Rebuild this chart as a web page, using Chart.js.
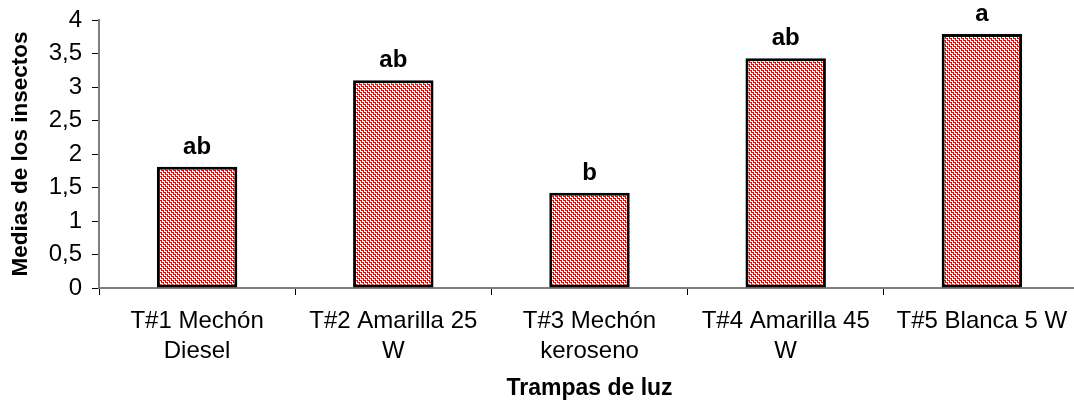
<!DOCTYPE html>
<html>
<head>
<meta charset="utf-8">
<script src="https://cdn.jsdelivr.net/npm/chart.js@4"></script>
<style>
html, body { margin: 0; padding: 0; background: #fff; overflow: hidden; width: 1074px; height: 405px; }
#wrap { width: 1080px; height: 405px; }
</style>
</head>
<body>
<div id="wrap"><canvas id="c" width="1080" height="405"></canvas></div>
<script>
const categories = [
  ['T#1 Mechón', 'Diesel'],
  ['T#2 Amarilla 25', 'W'],
  ['T#3 Mechón', 'keroseno'],
  ['T#4 Amarilla 45', 'W'],
  'T#5 Blanca 5 W'
];
const means = [1.81, 3.10, 1.42, 3.43, 3.79];
const letters = ['ab', 'ab', 'b', 'ab', 'a'];
const yTitle = 'Medias de los insectos';
const xTitle = 'Trampas de luz';

function makePattern() {
  const t = document.createElement('canvas');
  t.width = 4; t.height = 4;
  const g = t.getContext('2d');
  g.fillStyle = '#ffffff';
  g.fillRect(0, 0, 4, 4);
  g.fillStyle = '#ff0000';
  for (let y = 0; y < 4; y++) {
    for (let x = 0; x < 4; x++) {
      const d = ((x - y) % 4 + 4) % 4;
      if (d === 0 || ((x + y) % 2 === 1 && y % 2 === 0)) g.fillRect(x, y, 1, 1);
    }
  }
  return g.createPattern(t, 'repeat');
}

const letterPlugin = {
  id: 'letters',
  afterDatasetsDraw(chart) {
    const ctx = chart.ctx;
    const meta = chart.getDatasetMeta(0);
    ctx.save();
    ctx.font = 'bold 24px "Liberation Sans", Arial, sans-serif';
    ctx.fillStyle = '#000';
    ctx.textAlign = 'center';
    ctx.textBaseline = 'alphabetic';
    meta.data.forEach((bar, i) => {
      ctx.fillText(letters[i], bar.x, bar.y - 13);
    });
    ctx.restore();
  }
};

const font = { family: '"Liberation Sans", Arial, sans-serif', size: 24 };

new Chart(document.getElementById('c'), {
  type: 'bar',
  data: {
    labels: categories,
    datasets: [{
      data: means,
      backgroundColor: makePattern(),
      borderColor: '#000',
      borderWidth: 3,
      borderSkipped: false,
      categoryPercentage: 1,
      barPercentage: 0.41
    }]
  },
  options: {
    responsive: false,
    animation: false,
    devicePixelRatio: 1,
    layout: { padding: { top: 20, right: 0, left: 0, bottom: 0 } },
    plugins: { legend: { display: false }, tooltip: { enabled: false } },
    scales: {
      x: {
        offset: true,
        grid: { display: true, drawOnChartArea: false, drawTicks: true, tickLength: 7, color: '#000', offset: true },
        border: { display: true, color: '#808080', width: 2 },
        ticks: { color: '#000', font: { ...font, lineHeight: 1.25 }, padding: 11, maxRotation: 0, autoSkip: false },
        title: { display: true, text: xTitle, color: '#000', font: { ...font, size: 23, weight: 'bold' }, padding: { top: 0, bottom: 3 } },
        afterFit(scale) { scale.height = 117; scale.paddingLeft = 0; scale.paddingRight = 0; }
      },
      y: {
        min: 0, max: 4,
        grid: { display: true, drawOnChartArea: false, drawTicks: true, tickLength: 7, color: '#000' },
        border: { display: true, color: '#808080', width: 2 },
        ticks: {
          stepSize: 0.5, color: '#000', font: font, padding: 10,
          callback: (v) => String(v).replace('.', ',')
        },
        title: { display: true, text: yTitle, color: '#000', font: { ...font, size: 22.5, weight: 'bold' }, padding: { top: 7, bottom: 0 } },
        afterFit(scale) { scale.width = 99; scale.paddingTop = 0; scale.paddingBottom = 0; }
      }
    }
  },
  plugins: [letterPlugin]
});
</script>
</body>
</html>
